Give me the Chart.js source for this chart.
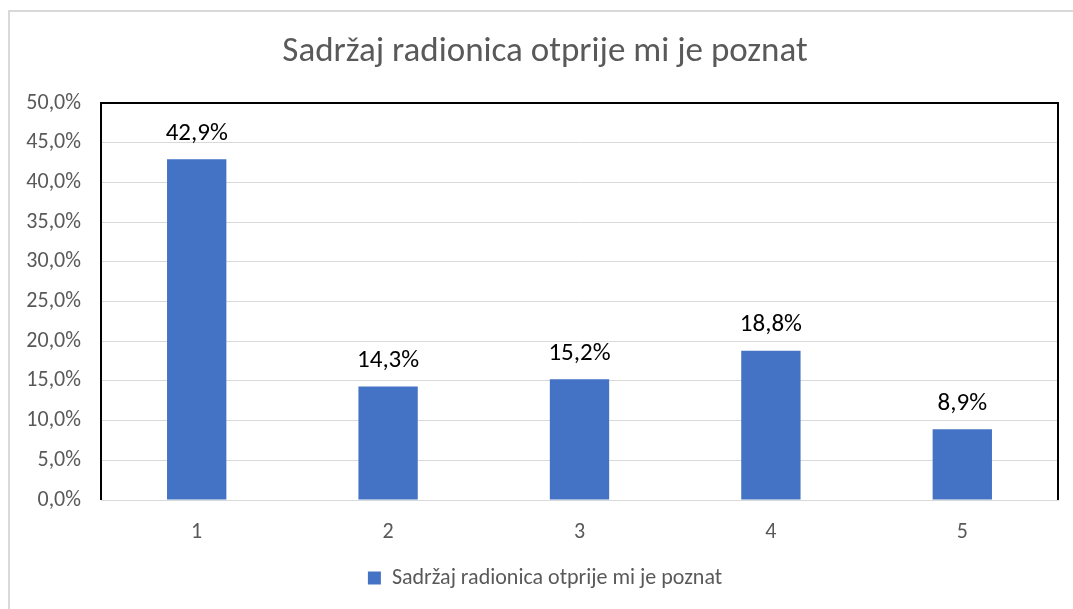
<!DOCTYPE html>
<html>
<head>
<meta charset="utf-8">
<script src="https://cdn.jsdelivr.net/npm/chart.js@4/dist/chart.umd.min.js"></script>
<style>
  html, body { margin: 0; padding: 0; background: #fff; }
  #wrap { width: 1073px; height: 609px; position: relative; }
</style>
</head>
<body>
<div id="wrap"><canvas id="chart" width="1073" height="609"></canvas></div>
<script>
// Categories and values
const categories = ['1', '2', '3', '4', '5'];
const values = [42.9, 14.3, 15.2, 18.8, 8.9];
const seriesName = 'Sadržaj radionica otprije mi je poznat';
const chartTitle = 'Sadržaj radionica otprije mi je poznat';

const FONT = 'Carlito, Calibri, Lato, "Open Sans", sans-serif';

// format 42.9 -> "42,9%"
function pct(v) {
  return v.toFixed(1).replace('.', ',') + '%';
}

// labels above each bar
const barLabels = {
  id: 'barLabels',
  afterDatasetsDraw(chart) {
    const ctx = chart.ctx;
    const meta = chart.getDatasetMeta(0);
    ctx.save();
    ctx.font = '25px ' + FONT;
    ctx.fillStyle = '#000';
    ctx.textAlign = 'center';
    ctx.textBaseline = 'middle';
    meta.data.forEach((bar, i) => {
      ctx.fillText(pct(chart.data.datasets[0].data[i]), bar.x, bar.y - 26);
    });
    ctx.restore();
  }
};

// plot area frame + outer chart border
const frames = {
  id: 'frames',
  afterLayout(chart) {
    // let the y tick labels use the left padding too (they are clipped to the scale box)
    chart.scales.y.left = 0;
  },
  beforeDraw(chart) {
    const ctx = chart.ctx;
    ctx.save();
    ctx.strokeStyle = '#d9d9d9';
    ctx.lineWidth = 2;
    ctx.beginPath();
    ctx.moveTo(9, 609);
    ctx.lineTo(9, 11);
    ctx.lineTo(1073, 11);
    ctx.stroke();
    ctx.restore();
  },
  afterDraw(chart) {
    const a = chart.chartArea;
    const ctx = chart.ctx;
    ctx.save();
    ctx.strokeStyle = '#000';
    ctx.lineWidth = 2;
    ctx.beginPath();
    ctx.moveTo(a.left, a.bottom);
    ctx.lineTo(a.left, a.top);
    ctx.lineTo(a.right, a.top);
    ctx.lineTo(a.right, a.bottom);
    ctx.stroke();
    ctx.restore();
  }
};

new Chart(document.getElementById('chart').getContext('2d'), {
  type: 'bar',
  data: {
    labels: categories,
    datasets: [{
      label: seriesName,
      data: values,
      backgroundColor: '#4472C4',
      borderWidth: 0,
      categoryPercentage: 1,
      barPercentage: 0.31
    }]
  },
  options: {
    responsive: false,
    animation: false,
    layout: { padding: { left: 32, right: 15, top: 0, bottom: 10 } },
    scales: {
      x: {
        grid: { display: false, drawTicks: false },
        border: { color: '#d9d9d9', width: 1 },
        ticks: { color: '#595959', font: { family: FONT, size: 22 }, padding: 19 },
        afterFit(scale) { scale.height = 57; }
      },
      y: {
        min: 0,
        max: 50,
        ticks: {
          stepSize: 5,
          color: '#595959',
          font: { family: FONT, size: 22 },
          padding: 20,
          callback: (v) => pct(v)
        },
        grid: { color: '#d9d9d9', drawTicks: false },
        border: { display: false },
        afterFit(scale) { scale.width = 69; }
      }
    },
    plugins: {
      title: {
        display: true,
        text: chartTitle,
        color: '#595959',
        font: { family: FONT, size: 35, weight: 'normal' },
        padding: { top: 31, bottom: 30 }
      },
      legend: {
        position: 'bottom',
        labels: {
          color: '#595959',
          font: { family: FONT, size: 22 },
          boxWidth: 13,
          boxHeight: 13,
          padding: 10
        }
      },
      tooltip: { enabled: false }
    }
  },
  plugins: [barLabels, frames]
});
</script>
</body>
</html>
